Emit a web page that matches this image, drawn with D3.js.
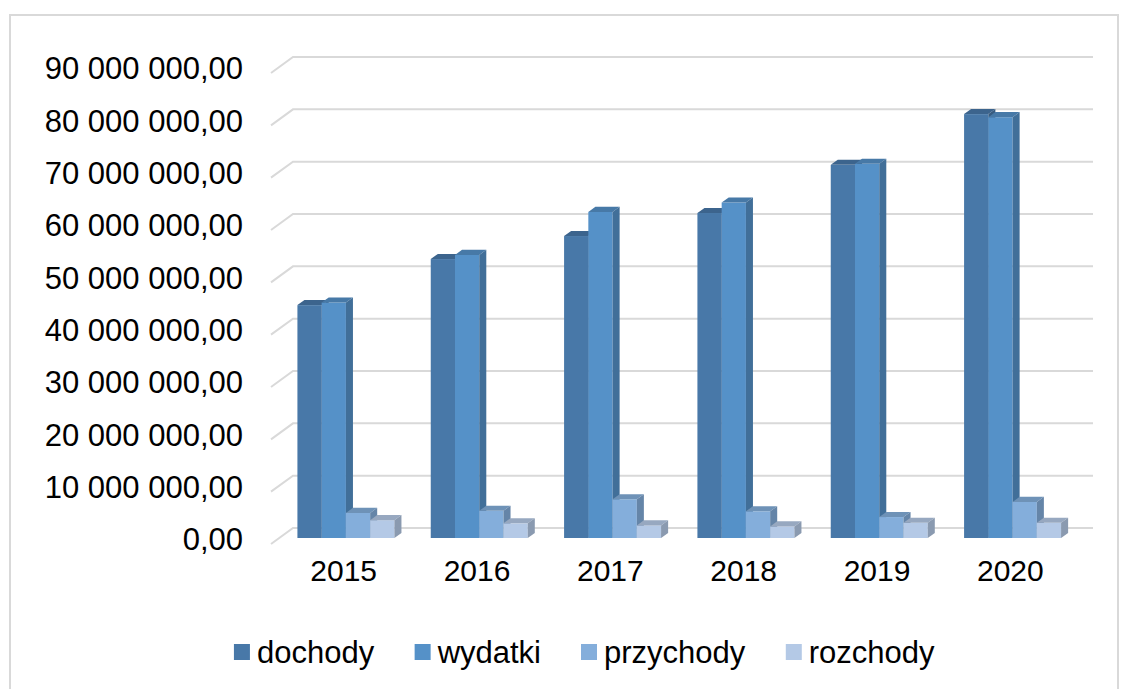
<!DOCTYPE html>
<html>
<head>
<meta charset="utf-8">
<script src="https://cdn.jsdelivr.net/npm/d3@7"></script>
<style>
  html, body { margin: 0; padding: 0; background: #fff; }
  svg { display: block; font-family: "Liberation Sans", Arial, sans-serif; }
</style>
</head>
<body>
<svg id="chart" width="1134" height="689"></svg>
<script>
// ---- data ----
const years = ["2015", "2016", "2017", "2018", "2019", "2020"];
const seriesNames = ["dochody", "wydatki", "przychody", "rozchody"];
const dochody   = [44.5e6, 53.3e6, 57.7e6, 62.1e6, 71.3e6, 81.0e6];
const wydatki   = [45.0e6, 54.1e6, 62.3e6, 64.1e6, 71.5e6, 80.4e6];
const przychody = [4.8e6, 5.2e6, 7.4e6, 5.1e6, 4.0e6, 6.9e6];
const rozchody  = [3.4e6, 2.8e6, 2.4e6, 2.2e6, 2.9e6, 2.9e6];
const yTicks = [0, 10e6, 20e6, 30e6, 40e6, 50e6, 60e6, 70e6, 80e6, 90e6];
const seriesColors = ["#4878a8", "#5591c8", "#84aedb", "#b4c9e6"];

const seriesValues = [dochody, wydatki, przychody, rozchody];

// ---- layout ----
const svg = d3.select("#chart");
const DX = 22, DY = -16;          // full depth offset of the 3D box
const barD0 = 0.375, barDD = 0.32;  // bar depth position / thickness (fraction)

const y = d3.scaleLinear().domain([0, 90e6]).range([544, 73]);
const x = d3.scaleBand().domain(years).range([271, 1071])
  .paddingInner(0.2725).paddingOuter(0.13625);
const xs = d3.scaleBand().domain(seriesNames).range([0, x.bandwidth()]);

const plLocale = d3.formatLocale({decimal: ",", thousands: " ", grouping: [3], currency: ["", " zł"]});
const fmt = plLocale.format(",.2f");

// chart border
svg.append("rect")
  .attr("x", 10).attr("y", 15).attr("width", 1108).attr("height", 700)
  .attr("fill", "none").attr("stroke", "#d9d9d9").attr("stroke-width", 2);

// gridlines (side wall + back wall)
const [x0Range, x1Range] = x.range();
svg.append("g").selectAll("path").data(yTicks).join("path")
  .attr("d", v => {
    const yf = y(v);
    return `M${x0Range},${yf} L${x0Range + DX},${yf + DY} L${x1Range + DX},${yf + DY}`;
  })
  .attr("fill", "none").attr("stroke", "#d9d9d9").attr("stroke-width", 2);

// y axis labels
const yAxis = svg.append("g")
  .attr("transform", "translate(246,-4)")
  .call(d3.axisLeft(y).tickValues(yTicks).tickFormat(fmt).tickSize(0).tickPadding(3));
yAxis.select(".domain").remove();
yAxis.selectAll("text").attr("font-size", 31).attr("fill", "#000")
  .attr("font-family", "Liberation Sans, Arial, sans-serif");

// bars
const bars = [];
years.forEach((yr, i) => {
  seriesNames.forEach((s, j) => bars.push({yr, s, j, v: seriesValues[j][i]}));
});
const ddx = barDD * DX, ddy = barDD * DY;
const gBars = svg.append("g");
bars.forEach(b => {
  const bx = x(b.yr) + xs(b.s) + barD0 * DX;
  const w = xs.bandwidth();
  const yb = y(0) + barD0 * DY;
  const yt = y(b.v) + barD0 * DY;
  const c = d3.color(seriesColors[b.j]);
  const g = gBars.append("g");
  g.append("rect").attr("x", bx).attr("y", yt).attr("width", w).attr("height", yb - yt)
    .attr("fill", c.formatHex());
  g.append("path")
    .attr("d", `M${bx},${yt} L${bx + ddx},${yt + ddy} L${bx + w + ddx},${yt + ddy} L${bx + w},${yt} Z`)
    .attr("fill", c.darker(0.5).formatHex());
  g.append("path")
    .attr("d", `M${bx + w},${yt} L${bx + w + ddx},${yt + ddy} L${bx + w + ddx},${yb + ddy} L${bx + w},${yb} Z`)
    .attr("fill", c.darker(0.75).formatHex());
});

// category axis
const xAxis = svg.append("g")
  .attr("transform", "translate(6,560)")
  .call(d3.axisBottom(x).tickSize(0).tickPadding(0));
xAxis.select(".domain").remove();
xAxis.selectAll("text").attr("font-size", 30).attr("fill", "#000").attr("dy", "0.71em")
  .attr("font-family", "Liberation Sans, Arial, sans-serif");

// legend
const legend = svg.append("g").attr("transform", "translate(0,652)");
const items = legend.selectAll("g").data(seriesNames).join("g");
items.append("rect").attr("width", 16).attr("height", 16).attr("y", -8)
  .attr("fill", (d, i) => seriesColors[i]);
items.append("text").attr("x", 23).attr("dy", "0.35em").attr("font-size", 31)
  .attr("fill", "#000").text(d => d);
let cx = 0;
const widths = [];
items.each(function() { widths.push(this.getBBox().width); });
const gap = 40;
const total = d3.sum(widths) + gap * (widths.length - 1);
cx = 584.5 - total / 2;
items.attr("transform", (d, i) => {
  const t = `translate(${cx},0)`;
  cx += widths[i] + gap;
  return t;
});
</script>
</body>
</html>
